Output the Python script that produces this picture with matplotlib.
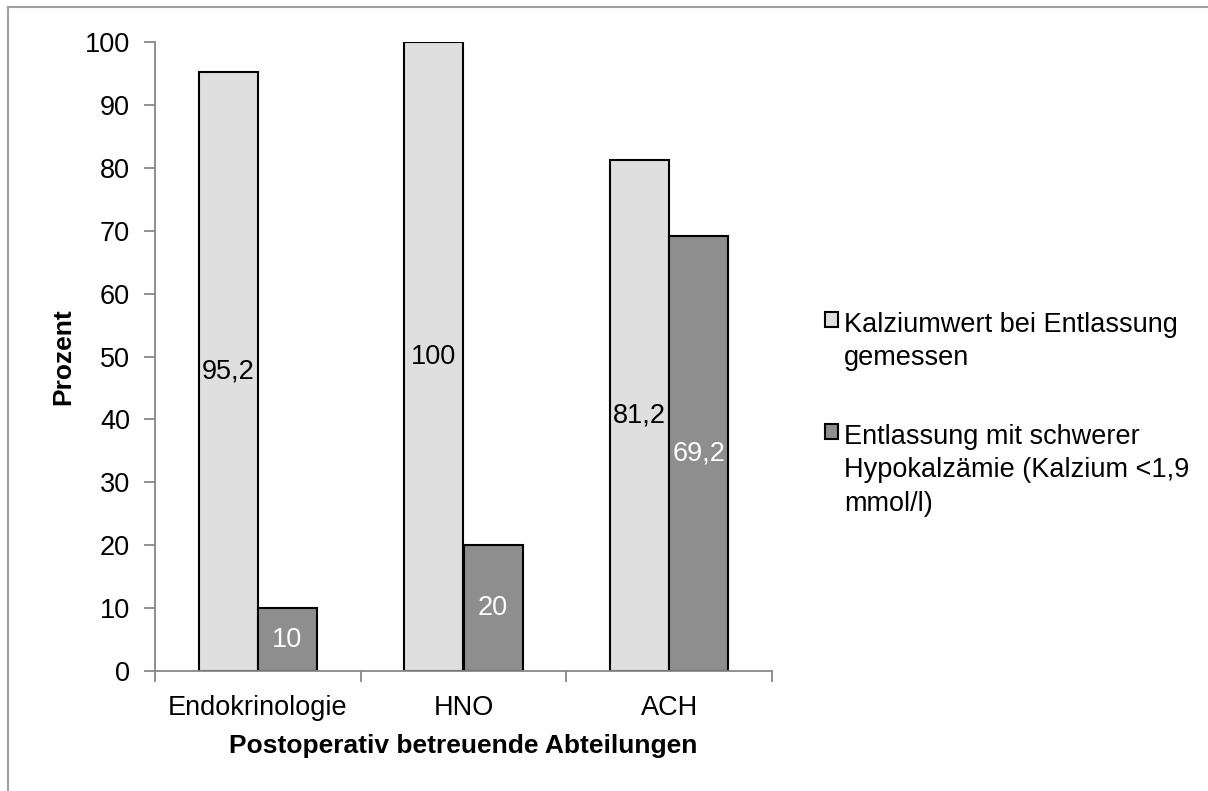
import numpy as np
import matplotlib.pyplot as plt
from matplotlib.lines import Line2D

plt.rcParams['font.family'] = ['Liberation Sans', 'DejaVu Sans']

# Daten
abteilungen = ['Endokrinologie', 'HNO', 'ACH']
gemessen = [95.2, 100, 81.2]
hypokalz = [10, 20, 69.2]
labels_gemessen = ['95,2', '100', '81,2']
labels_hypokalz = ['10', '20', '69,2']
serien = ['Kalziumwert bei Entlassung\ngemessen',
          'Entlassung mit schwerer\nHypokalzämie (Kalzium <1,9\nmmol/l)']

fs = 19.5
fig = plt.figure(figsize=(12.08, 7.91), dpi=100)
ax = fig.add_axes([155/1208, 1-671/791, (772-155)/1208, (671-42)/791])

x = np.arange(len(abteilungen))
w = 0.287
ax.bar(x - w/2, gemessen, w, color='#dfdfdf', edgecolor='black', linewidth=1.5, label=serien[0])
ax.bar(x + w/2, hypokalz, w, color='#8e8e8e', edgecolor='black', linewidth=1.5, label=serien[1])

for xi, v, t in zip(x, gemessen, labels_gemessen):
    ax.text(xi - w/2, v/2, t, ha='center', va='center', fontsize=fs, color='black')
for xi, v, t in zip(x, hypokalz, labels_hypokalz):
    ax.text(xi + w/2, v/2, t, ha='center', va='center', fontsize=fs, color='white')

ax.set_xlim(-0.5, len(abteilungen) - 0.5)
ax.set_ylim(0, 100)
ax.set_yticks(np.arange(0, 101, 10))
ax.set_xticks(x)
ax.set_xticklabels(abteilungen, fontsize=fs)
ax.set_xticks(np.arange(-0.5, len(abteilungen)), minor=True)
ax.tick_params(axis='x', which='major', length=0, pad=17)
ax.tick_params(axis='x', which='minor', length=8, width=1.3, color='#888888', direction='out')
ax.tick_params(axis='y', length=8, width=1.3, color='#888888', labelsize=fs, pad=10)

for s in ['top', 'right']:
    ax.spines[s].set_visible(False)
for s in ['left', 'bottom']:
    ax.spines[s].set_color('#888888')
    ax.spines[s].set_linewidth(1.3)

ax.set_ylabel('Prozent', fontsize=19, fontweight='bold', labelpad=7)
ax.set_xlabel('Postoperativ betreuende Abteilungen', fontsize=19, fontweight='bold', labelpad=10)

leg = fig.legend(loc='upper left', bbox_to_anchor=(814/1208, 1-301/791), frameon=False,
                 fontsize=fs, handlelength=0.5, handleheight=0.5, handletextpad=0.2,
                 labelspacing=1.95, borderaxespad=0)
for t in leg.get_texts():
    t.set_linespacing(1.37)
# Kästchen oben an der ersten Zeile ausrichten
for col in leg._legend_handle_box.get_children():
    col.align = 'left'
    for row in col.get_children():
        row.align = 'top'

# Rahmen
fig.add_artist(Line2D([8/1208, 8/1208], [0, 1-7/791], color='#a0a0a0', lw=1.5))
fig.add_artist(Line2D([8/1208, 1], [1-7/791, 1-7/791], color='#a0a0a0', lw=1.5))

fig.savefig('out.png', dpi=100)
